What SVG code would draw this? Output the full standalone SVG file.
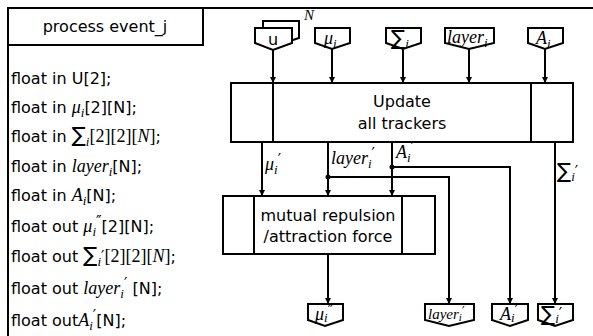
<svg xmlns="http://www.w3.org/2000/svg" width="593" height="336" viewBox="0 0 593 336">
  <defs>
    <marker id="ah" viewBox="0 0 6 6" refX="6" refY="3" markerWidth="6" markerHeight="6" orient="auto" markerUnits="userSpaceOnUse">
      <path d="M0,0 L6,3 L0,6 Z" fill="#000"/>
    </marker>
  </defs>
  <style>
    .frame { fill: none; stroke: #000; stroke-width: 2; }
    .box { fill: #fff; stroke: #000; stroke-width: 2; }
    .wire { fill: none; stroke: #000; stroke-width: 2; marker-end: url(#ah); }
    .line { fill: none; stroke: #000; stroke-width: 2; }
    .sans { font-family: "DejaVu Sans", Verdana, sans-serif; font-size: 16px; fill: #000; }
    .math { font-family: "Liberation Serif", "DejaVu Serif", serif; font-style: italic; font-size: 18px; fill: #000; }
    .up { font-style: normal; }
    .sig { font-family: "DejaVu Sans", sans-serif; font-style: normal; font-size: 21px; }
    .pr { font-family: "DejaVu Sans", sans-serif; font-style: normal; font-size: 15px; }
    .sub { font-size: 13px; }
    .mid { text-anchor: middle; }
    .dot { fill: #000; }
  </style>
  <rect width="593" height="336" fill="#fff"/>

  <!-- outer frame: top and left edges only -->
  <path class="frame" d="M8,336 V8 H593"/>

  <!-- header of the declaration panel -->
  <g id="title">
    <path class="frame" d="M8,45 H203 V8"/>
    <text class="sans mid" x="105" y="32">process event_j</text>
  </g>

  <!-- variable declarations -->
  <g id="declarations" class="sans">
    <text x="11" y="84">float in U[2];</text>
    <text x="11" y="113">float in <tspan class="math">μ</tspan><tspan class="math sub" dy="4">i</tspan><tspan dy="-4">[2][N];</tspan></text>
    <text x="11" y="142">float in <tspan class="sig">∑</tspan><tspan class="math sub" dy="4">i</tspan><tspan class="math up" dy="-4">[2][2][</tspan><tspan class="math">N</tspan><tspan class="math up">]</tspan>;</text>
    <text x="11" y="172">float in <tspan class="math">layer</tspan><tspan class="math sub" dy="4">i</tspan><tspan dy="-4">[N];</tspan></text>
    <text x="11" y="201">float in <tspan class="math">A</tspan><tspan class="math sub" dy="4">i</tspan><tspan dy="-4">[N];</tspan></text>
    <text x="11" y="232">float out <tspan class="math">μ</tspan><tspan class="math sub" dy="4">i</tspan><tspan class="pr" dy="-9">″</tspan><tspan dy="5">[2][N];</tspan></text>
    <text x="11" y="262">float out <tspan class="sig">∑</tspan><tspan class="math sub" dy="4">i</tspan><tspan class="pr" dy="-4">′</tspan><tspan class="math up">[2][2][</tspan><tspan class="math">N</tspan><tspan class="math up">]</tspan>;</text>
    <text x="11" y="294">float out <tspan class="math">layer</tspan><tspan class="math sub" dy="4">i</tspan><tspan class="pr" dy="-9">′</tspan><tspan dy="5"> [N];</tspan></text>
    <text x="11" y="326">float out<tspan class="math">A</tspan><tspan class="math sub" dy="4">i</tspan><tspan class="pr" dy="-9">′</tspan><tspan dy="5">[N];</tspan></text>
  </g>

  <!-- input ports -->
  <g id="in-u">
    <path class="box" d="M263,21 H299 V38 L281,44 L263,38 Z"/>
    <path class="box" d="M255,28 H292 V43 L273,50 L255,43 Z"/>
    <text class="sans mid" x="273" y="45">u</text>
    <text class="math" x="304" y="20" style="font-size:15px">N</text>
  </g>
  <g id="in-mu">
    <path class="box" d="M315,28 H350 V43 L332,49 L315,43 Z"/>
    <text class="math" x="324" y="44">μ<tspan class="sub" dy="4">i</tspan></text>
  </g>
  <g id="in-sigma">
    <path class="box" d="M386,28 H421 V43 L403,49 L386,43 Z"/>
    <text class="math" x="391" y="45"><tspan class="sig">∑</tspan><tspan class="sub" dy="3">i</tspan></text>
  </g>
  <g id="in-layer">
    <path class="box" d="M445,28 H494 V43 L469,49 L445,43 Z"/>
    <text class="math" x="447" y="43">layer<tspan class="sub" dy="4">i</tspan></text>
  </g>
  <g id="in-a">
    <path class="box" d="M528,28 H563 V43 L545,49 L528,43 Z"/>
    <text class="math" x="536" y="44">A<tspan class="sub" dy="4">i</tspan></text>
  </g>

  <!-- processes -->
  <g id="update">
    <rect class="box" x="231" y="83" width="342" height="59"/>
    <path class="line" d="M273,83 V142 M531,83 V142"/>
    <text class="sans mid" x="402" y="107">Update</text>
    <text class="sans mid" x="402" y="129">all trackers</text>
  </g>
  <g id="mutual">
    <rect class="box" x="223" y="196" width="212" height="58"/>
    <path class="line" d="M254,196 V254 M402,196 V254"/>
    <text class="sans mid" x="328" y="221">mutual repulsion</text>
    <text class="sans mid" x="328" y="242">/attraction force</text>
  </g>

  <!-- output ports -->
  <g id="out-mu">
    <path class="box" d="M308,304 H343 V320 L325,326 L308,320 Z"/>
    <text class="math" x="315" y="320">μ<tspan class="sub" dy="2">i</tspan><tspan class="pr" dy="-6">″</tspan></text>
  </g>
  <g id="out-layer">
    <path class="box" d="M425,304 H474 V320 L449,326 L425,320 Z"/>
    <text class="math" x="428" y="319" style="font-size:15px">layer<tspan class="sub" style="font-size:11px" dy="2">i</tspan><tspan class="pr" style="font-size:12px" dy="-6">′</tspan></text>
  </g>
  <g id="out-a">
    <path class="box" d="M492,304 H528 V320 L510,326 L492,320 Z"/>
    <text class="math" x="500" y="320">A<tspan class="sub" dy="2">i</tspan><tspan class="pr" dy="-6">′</tspan></text>
  </g>
  <g id="out-sigma">
    <path class="box" d="M538,304 H573 V320 L555,326 L538,320 Z"/>
    <text class="math" x="541" y="321"><tspan class="sig">∑</tspan><tspan class="sub" dy="2">i</tspan><tspan class="pr" dy="-4">′</tspan></text>
  </g>

  <!-- connectors -->
  <g id="connectors">
    <path class="wire" d="M273,50 V83"/>
    <path class="wire" d="M332,49 V83"/>
    <path class="wire" d="M403,49 V83"/>
    <path class="wire" d="M469,49 V83"/>
    <path class="wire" d="M545,49 V83"/>

    <path class="wire" d="M262,142 V196"/>
    <path class="wire" d="M328,142 V196"/>
    <path class="wire" d="M392,142 V196"/>
    <path class="wire" d="M328,177 H449 V304"/>
    <path class="wire" d="M392,167 H510 V304"/>
    <path class="wire" d="M555,142 V304"/>
    <path class="wire" d="M328,254 V304"/>
    <circle class="dot" cx="328" cy="177" r="2.5"/>
    <circle class="dot" cx="392" cy="167" r="2.5"/>

    <text class="math" x="265" y="170">μ<tspan class="sub" dy="4">i</tspan><tspan class="pr" dy="-9">′</tspan></text>
    <text class="math" x="331" y="164">layer<tspan class="sub" dy="4">i</tspan><tspan class="pr" dy="-9">′</tspan></text>
    <text class="math" x="396" y="158">A<tspan class="sub" dy="4">i</tspan><tspan class="pr" dy="-9">′</tspan></text>
    <text class="math" x="557" y="178"><tspan class="sig">∑</tspan><tspan class="sub" dy="3">i</tspan><tspan class="pr" dy="-4">′</tspan></text>
  </g>
</svg>
